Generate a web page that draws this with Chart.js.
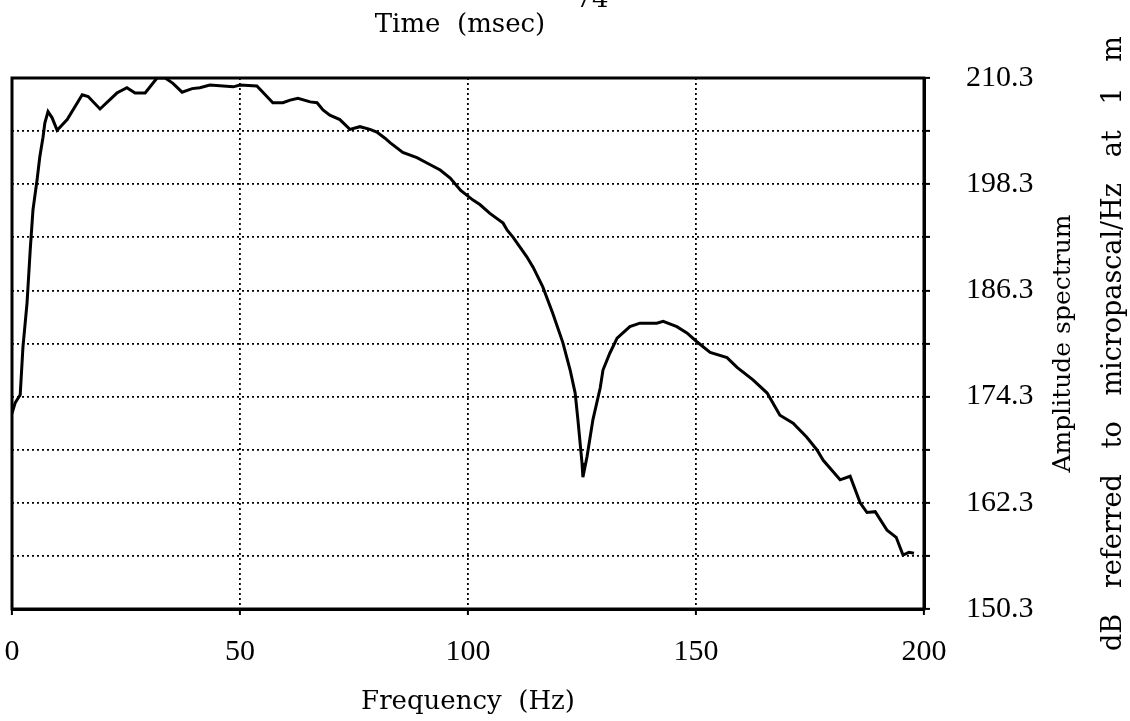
<!DOCTYPE html>
<html>
<head>
<meta charset="utf-8">
<title>Amplitude spectrum</title>
<script src="https://cdn.jsdelivr.net/npm/chart.js@4.4.0/dist/chart.umd.min.js"></script>
<style>
  html, body { margin: 0; padding: 0; background: #fff; }
  #wrap { width: 1130px; height: 721px; position: relative; }
</style>
</head>
<body>
<div id="wrap"><canvas id="spectrumChart"></canvas></div>
<script>
// values
const freqHz = [
  0, 0.7, 1.8, 2.4, 3.3, 4.0, 4.6, 5.5, 6.1, 6.8,
  7.2, 7.9, 8.8, 9.9, 12.1, 15.4, 16.7, 19.3, 23.0, 25.2,
  27.0, 29.2, 31.8, 33.6, 35.3, 37.3, 39.5, 41.2, 43.4, 48.5,
  50.0, 53.7, 55.9, 57.2, 59.4, 61.0, 62.7, 65.4, 66.9, 68.2,
  69.7, 71.9, 74.1, 76.3, 78.5, 80.0, 81.8, 82.9, 85.7, 88.8,
  91.0, 93.9, 96.1, 98.4, 101.1, 102.6, 104.8, 107.7, 108.6, 109.9,
  111.4, 112.9, 114.3, 116.4, 118.6, 120.8, 122.4, 123.5, 124.1, 125.0,
  125.2, 126.1, 127.4, 129.0, 129.6, 131.1, 132.7, 135.5, 137.7, 141.4,
  142.8, 145.8, 148.0, 150.2, 153.1, 156.8, 159.0, 162.5, 165.6, 168.4,
  171.3, 174.3, 176.5, 177.9, 181.6, 183.8, 186.0, 187.5, 189.3, 191.9,
  193.9, 195.4, 196.7, 197.8
];
const levelDb = [
  172.4, 173.6, 174.5, 179.9, 184.9, 190.9, 195.4, 198.8, 201.4, 203.6,
  205.2, 206.5, 205.8, 204.4, 205.6, 208.4, 208.2, 206.8, 208.6, 209.2,
  208.6, 208.6, 210.3, 210.3, 209.7, 208.7, 209.1, 209.2, 209.5, 209.3,
  209.5, 209.4, 208.2, 207.5, 207.5, 207.8, 208.0, 207.6, 207.5, 206.7,
  206.1, 205.6, 204.5, 204.8, 204.5, 204.2, 203.5, 203.0, 201.9, 201.3,
  200.7, 199.9, 199.0, 197.6, 196.5, 196.0, 195.0, 193.9, 193.1, 192.3,
  191.2, 190.1, 188.9, 186.7, 183.7, 180.4, 177.3, 174.7, 171.7, 166.8,
  165.2, 167.5, 171.7, 175.3, 177.3, 179.2, 180.9, 182.2, 182.6, 182.6,
  182.8, 182.2, 181.5, 180.5, 179.3, 178.7, 177.6, 176.2, 174.7, 172.2,
  171.3, 169.7, 168.3, 167.1, 164.9, 165.3, 162.3, 161.2, 161.3, 159.2,
  158.4, 156.4, 156.7, 156.6
];

const xTicks = [0, 50, 100, 150, 200];
const yGrid = [150.3, 156.3, 162.3, 168.3, 174.3, 180.3, 186.3, 192.3, 198.3, 204.3, 210.3];
const yLabels = [150.3, 162.3, 174.3, 186.3, 198.3, 210.3];

const xTitle = 'Frequency  (Hz)';
const topTitle = 'Time  (msec)';
const pageNo = '74';
const yTitleLines = ['Amplitude spectrum', 'dB   referred   to   micropascal/Hz   at   1   m'];

const serif = '"DejaVu Serif", serif';
const tickFont = '"Liberation Serif", serif';

// frame round the plot plus the texts Chart.js cannot place
const frameAndTitles = {
  id: 'frameAndTitles',
  afterDraw(chart) {
    const { ctx, chartArea: a } = chart;
    ctx.save();
    ctx.strokeStyle = '#000';
    ctx.lineWidth = 3;
    ctx.strokeRect(a.left, a.top, a.right - a.left, a.bottom - a.top);

    ctx.fillStyle = '#000';
    ctx.font = '26px ' + serif;
    ctx.textAlign = 'center';
    ctx.textBaseline = 'middle';
    ctx.fillText(topTitle, 460, 25);

    ctx.textBaseline = 'alphabetic';
    ctx.fillText(pageNo, 592, 7);

    const midY = (a.top + a.bottom) / 2;
    ctx.textBaseline = 'middle';
    [[1063, 25], [1114, 27]].forEach(([x, size], i) => {
      ctx.save();
      ctx.font = size + 'px ' + serif;
      ctx.translate(x, midY);
      ctx.rotate(-Math.PI / 2);
      ctx.fillText(yTitleLines[i], 0, 0);
      ctx.restore();
    });
    ctx.restore();
  }
};

const ctx = document.getElementById('spectrumChart').getContext('2d');
new Chart(ctx, {
  type: 'line',
  data: {
    datasets: [{
      data: freqHz.map((f, i) => ({ x: f, y: levelDb[i] })),
      borderColor: '#000',
      borderWidth: 3,
      pointRadius: 0,
      tension: 0,
      fill: false
    }]
  },
  options: {
    responsive: true,
    maintainAspectRatio: false,
    animation: false,
    layout: { padding: { left: 12, top: 78, right: 0, bottom: 0 } },
    plugins: {
      legend: { display: false },
      tooltip: { enabled: false }
    },
    scales: {
      x: {
        type: 'linear',
        min: 0,
        max: 200,
        afterBuildTicks: (scale) => { scale.ticks = xTicks.map(v => ({ value: v })); },
        afterFit: (scale) => {
          scale.height = 112;
          scale.paddingLeft = 0;
          scale.paddingRight = 0;
        },
        ticks: {
          color: '#000',
          font: { family: tickFont, size: 30 },
          padding: 19,
          maxRotation: 0
        },
        grid: {
          color: '#000',
          lineWidth: 1.8,
          tickLength: 6,
          tickColor: '#000',
          tickWidth: 2
        },
        border: { display: true, color: '#000', width: 3, dash: [2, 3] },
        title: {
          display: true,
          text: xTitle,
          color: '#000',
          font: { family: serif, size: 26 },
          padding: { top: 0, bottom: 3 }
        }
      },
      y: {
        type: 'linear',
        position: 'right',
        min: 150.3,
        max: 210.3,
        afterBuildTicks: (scale) => { scale.ticks = yGrid.map(v => ({ value: v })); },
        afterFit: (scale) => { scale.width = 206; },
        ticks: {
          color: '#000',
          font: { family: tickFont, size: 30 },
          padding: 36,
          callback: (v) => yLabels.includes(v) ? v.toFixed(1) : ''
        },
        grid: {
          color: '#000',
          lineWidth: 1.8,
          tickLength: 6,
          tickColor: '#000',
          tickWidth: 2
        },
        border: { display: true, color: '#000', width: 3, dash: [2, 3] }
      }
    }
  },
  plugins: [frameAndTitles]
});
</script>
</body>
</html>
